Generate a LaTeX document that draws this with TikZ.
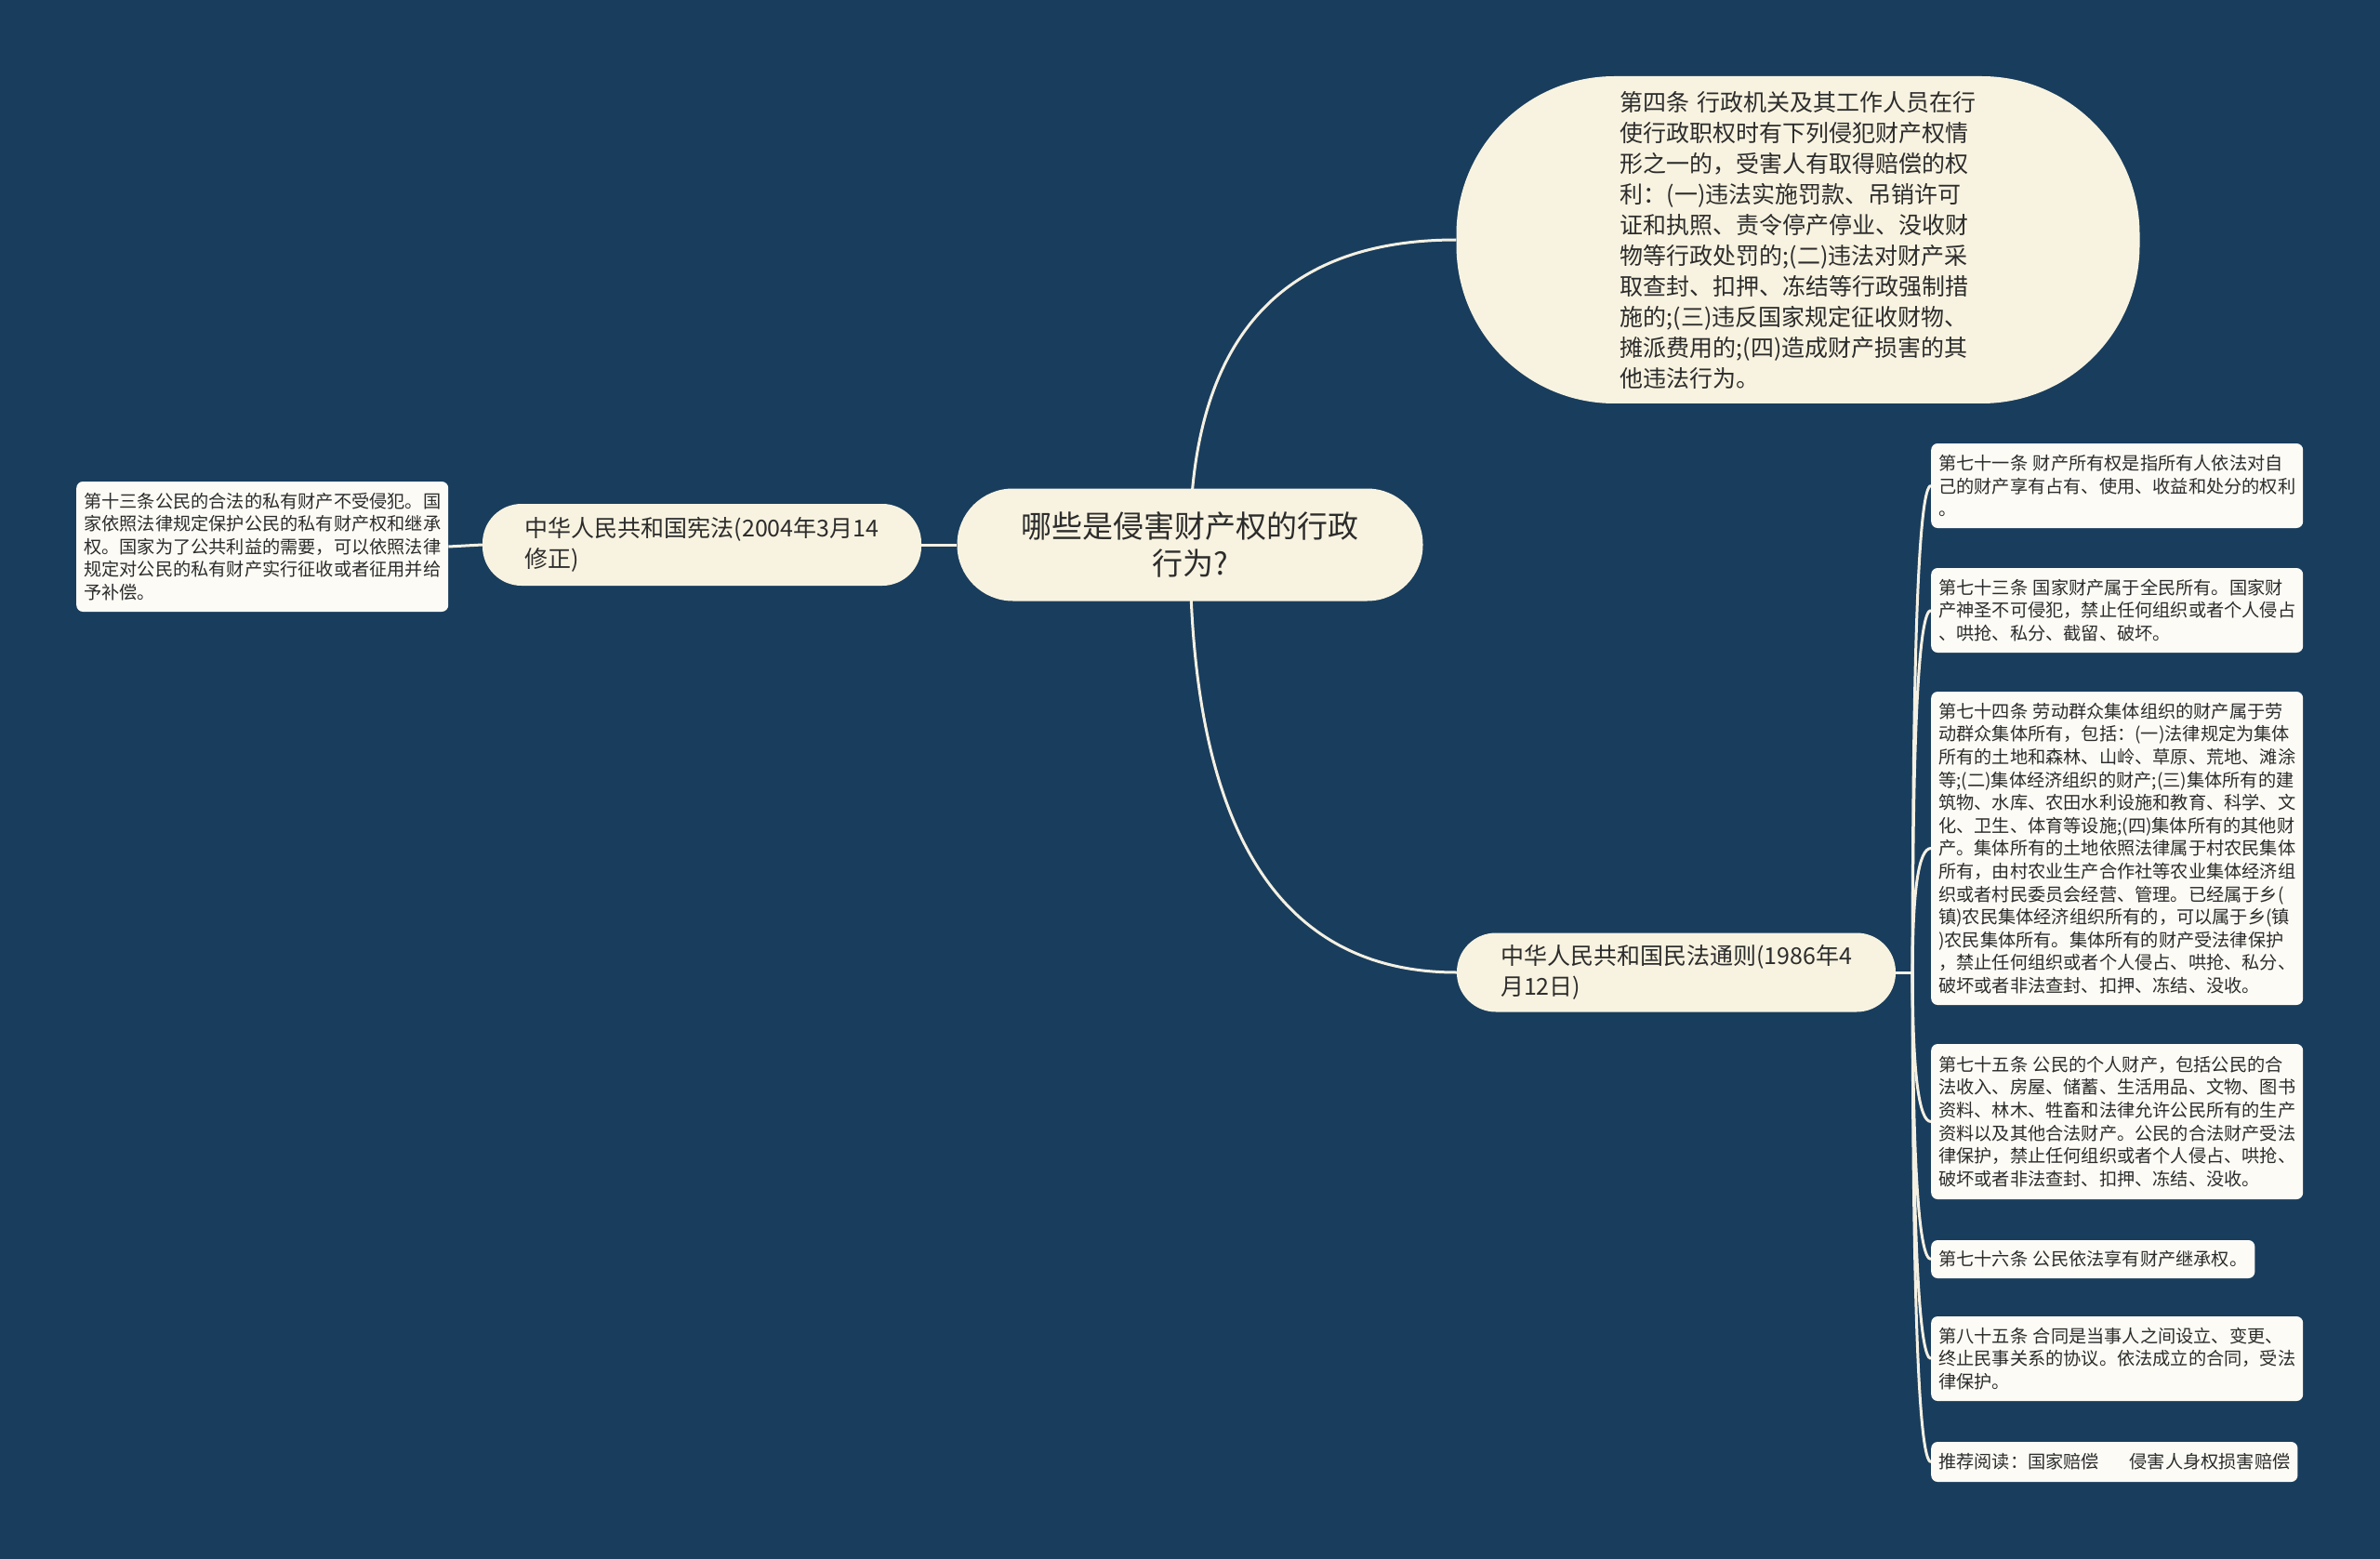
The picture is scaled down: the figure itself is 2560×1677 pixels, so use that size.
\documentclass[tikz,border=0pt]{standalone}
\usepackage{fontspec}
\setmainfont{Noto Sans CJK SC}
\usetikzlibrary{calc}
\definecolor{bgc}{HTML}{193D5D}
\definecolor{cream}{HTML}{F8F3E0}
\definecolor{leaff}{HTML}{FCFBF5}
\definecolor{linec}{HTML}{F4F0E2}
\definecolor{txt}{HTML}{2C2C2C}
\pgfdeclarelayer{bgl}
\pgfdeclarelayer{edges}
\pgfsetlayers{bgl,edges,main}
\newcommand{\gapsp}{\hspace{0.3em}}
\tikzset{
  rootn/.style={fill=cream, rounded corners=60pt, minimum width=501pt, minimum height=121pt,
    inner sep=0pt, font=\fontsize{33pt}{40pt}\selectfont, text=txt, align=center},
  bign/.style={fill=cream, rounded corners=170pt, minimum width=735pt, minimum height=352pt,
    inner sep=0pt, font=\fontsize{25pt}{33pt}\selectfont, text=txt, align=left},
  lone/.style={fill=cream, rounded corners=42pt, minimum width=472pt,
    inner sep=0pt, font=\fontsize{25pt}{33pt}\selectfont, text=txt, align=left},
  leafn/.style={fill=leaff, rounded corners=7pt, inner xsep=8pt, inner ysep=0pt,
    font=\fontsize{19.2pt}{24.6pt}\selectfont, text=txt, align=left, anchor=west},
  edgeline/.style={draw=linec, line width=3pt}
}
\begin{document}
\begin{tikzpicture}[x=1pt,y=-1pt]
\useasboundingbox (0,0) rectangle (2560,1677);
\begin{pgfonlayer}{bgl}
\fill[bgc] (0,0) rectangle (2560,1677);
\end{pgfonlayer}

\node[rootn] (root) at (1280,586) {哪些是侵害财产权的行政\\行为?};

\node[bign] (art4) at (1934,258) {第四条\gapsp 行政机关及其工作人员在行\\使行政职权时有下列侵犯财产权情\\形之一的，受害人有取得赔偿的权\\利：(一)违法实施罚款、吊销许可\\证和执照、责令停产停业、没收财\\物等行政处罚的;(二)违法对财产采\\取查封、扣押、冻结等行政强制措\\施的;(三)违反国家规定征收财物、\\摊派费用的;(四)造成财产损害的其\\他违法行为。};

\node[lone, minimum height=88pt] (xianfa) at (755,586) {中华人民共和国宪法(2004年3月14\\修正)};
\node[lone, minimum height=85pt] (minfa) at (1803,1046) {中华人民共和国民法通则(1986年4\\月12日)};

\node[leafn, minimum height=140pt] (a13) at (82,588) {第十三条公民的合法的私有财产不受侵犯。国\\家依照法律规定保护公民的私有财产权和继承\\权。国家为了公共利益的需要，可以依照法律\\规定对公民的私有财产实行征收或者征用并给\\予补偿。};

\node[leafn, minimum height=91pt] (a71) at (2077,522.5) {第七十一条\gapsp 财产所有权是指所有人依法对自\\己的财产享有占有、使用、收益和处分的权利\\。};
\node[leafn, minimum height=91pt] (a73) at (2077,656.5) {第七十三条\gapsp 国家财产属于全民所有。国家财\\产神圣不可侵犯，禁止任何组织或者个人侵占\\、哄抢、私分、截留、破坏。};
\node[leafn, minimum height=337pt] (a74) at (2077,912.5) {第七十四条\gapsp 劳动群众集体组织的财产属于劳\\动群众集体所有，包括：(一)法律规定为集体\\所有的土地和森林、山岭、草原、荒地、滩涂\\等;(二)集体经济组织的财产;(三)集体所有的建\\筑物、水库、农田水利设施和教育、科学、文\\化、卫生、体育等设施;(四)集体所有的其他财\\产。集体所有的土地依照法律属于村农民集体\\所有，由村农业生产合作社等农业集体经济组\\织或者村民委员会经营、管理。已经属于乡(\\镇)农民集体经济组织所有的，可以属于乡(镇\\)农民集体所有。集体所有的财产受法律保护\\，禁止任何组织或者个人侵占、哄抢、私分、\\破坏或者非法查封、扣押、冻结、没收。};
\node[leafn, minimum height=167pt] (a75) at (2077,1206.5) {第七十五条\gapsp 公民的个人财产，包括公民的合\\法收入、房屋、储蓄、生活用品、文物、图书\\资料、林木、牲畜和法律允许公民所有的生产\\资料以及其他合法财产。公民的合法财产受法\\律保护，禁止任何组织或者个人侵占、哄抢、\\破坏或者非法查封、扣押、冻结、没收。};
\node[leafn, minimum height=41pt] (a76) at (2077,1354.5) {第七十六条\gapsp 公民依法享有财产继承权。};
\node[leafn, minimum height=91pt] (a85) at (2077,1461.5) {第八十五条\gapsp 合同是当事人之间设立、变更、\\终止民事关系的协议。依法成立的合同，受法\\律保护。};
\node[leafn, minimum height=43pt] (rec) at (2077,1572.5) {推荐阅读：国家赔偿\hspace{1.7em}侵害人身权损害赔偿};

\coordinate (j) at ($(minfa.east)+(18pt,0pt)$);

\begin{pgfonlayer}{edges}
\draw[edgeline] (root.center) .. controls ($(root.center)!0.6667!(root.center |- art4.west)$) and ($(art4.west)!0.6667!(root.center |- art4.west)$) .. (art4.west);
\draw[edgeline] (root.center) .. controls ($(root.center)!0.6667!(root.center |- minfa.west)$) and ($(minfa.west)!0.6667!(root.center |- minfa.west)$) .. (minfa.west);
\draw[edgeline] (root.west) -- (xianfa.east);
\draw[edgeline] (xianfa.west) -- (a13.east);
\draw[edgeline] (minfa.east) -- (j);
\foreach \n in {a71,a73,a74,a75,a76,a85,rec}{
  \draw[edgeline] (j) .. controls ($(j)!0.6667!(j |- \n.west)$) and ($(\n.west)!0.6667!(j |- \n.west)$) .. (\n.west);
}
\end{pgfonlayer}
\end{tikzpicture}
\end{document}
